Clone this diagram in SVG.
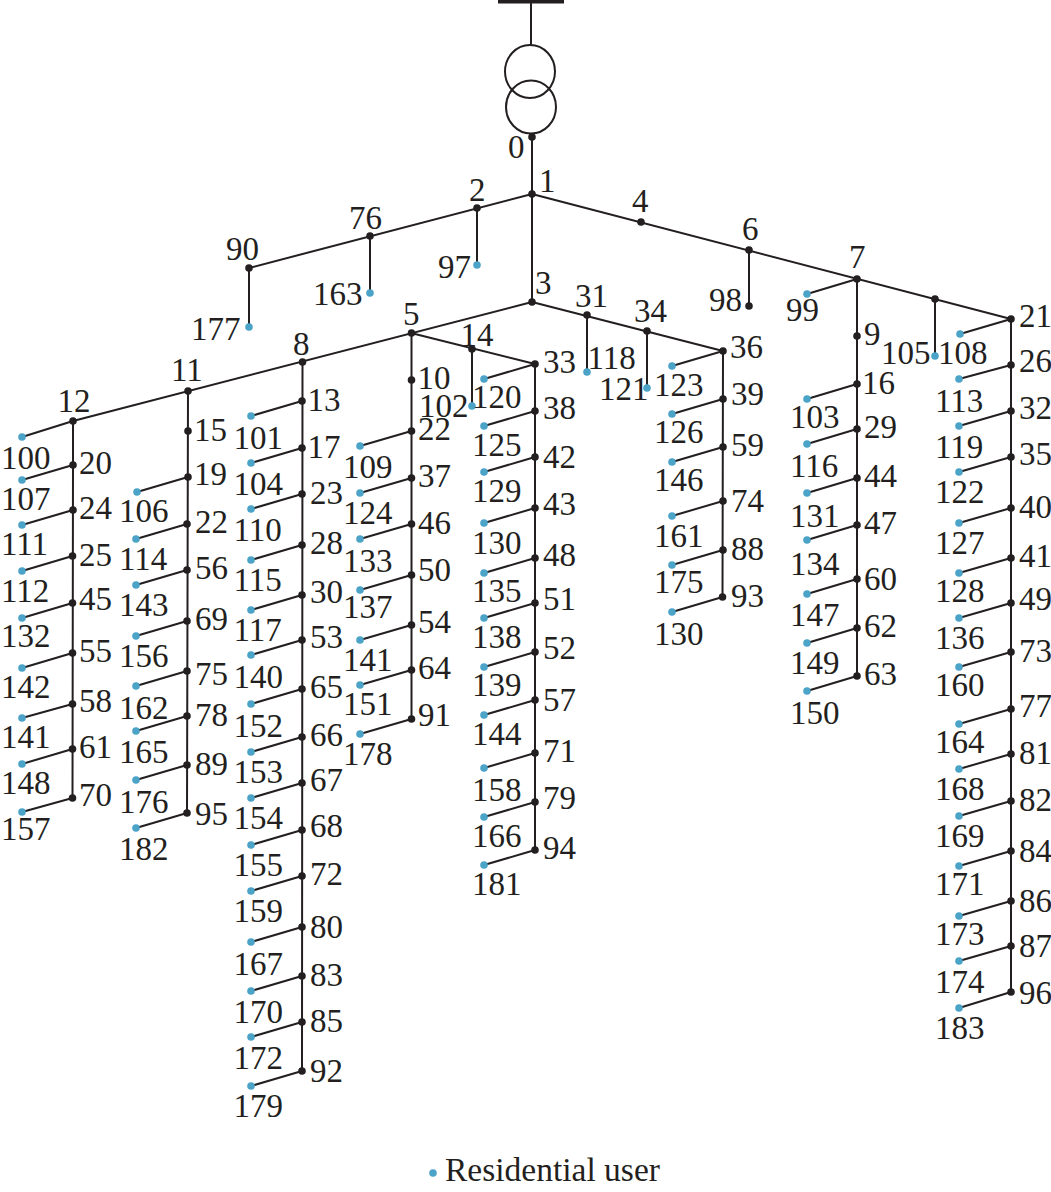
<svg xmlns="http://www.w3.org/2000/svg" width="1051" height="1192" viewBox="0 0 1051 1192">
<style>
text{font-family:"Liberation Serif","Times New Roman",serif;font-size:33px;fill:#231f20;transform:translate(1px,0.7px)}
.b{fill:#231f20}
.u{fill:#4ba3c7}
#connectors path,#transformer ellipse,#transformer path{fill:none;stroke:#231f20;stroke-width:2}
</style>
<rect width="1051" height="1192" fill="#fff"/>
<g id="transformer">
<rect x="498" y="0" width="66" height="3.5" fill="#231f20"/>
<path d="M531 0V45"/>
<ellipse cx="530" cy="71.500" rx="25" ry="26.500"/>
<ellipse cx="531" cy="107" rx="25" ry="26.500"/>
</g>
<g id="connectors">
<path id="trunk" d="M532 137V302"/>
<path id="left-feeder" d="M532 194L249 268M477 208V265M370 236V293M249 268V327"/>
<path id="right-feeder" d="M532 194L1011 319M749 250V306M857 279L807 294M935 299V356"/>
<path id="mid-feeder" d="M532 302L73 421L22 437M532 302L723 351M587 315V372M647 331V388"/>
<path id="branch14" d="M411 333L535 364M472 349V406"/>
<path id="col12" d="M73 421V465M73 465L22 480M73 465L72.500 798M73 510L22 525M72.500 556L22 571M72.500 603L22 618M72.500 653L22 668M72.500 704L22 718M72.500 749L22 764M72.500 798L22 812"/>
<path id="col11" d="M188 391L187 813M188 477L137 492M187 524L136 539M187 570L136 585M187 621L136 636M187 671L136 686M187 716L136 731M187 765L136 780M187 813L136 828"/>
<path id="col8" d="M302.500 362L302 1071M302 401L251 416M302 448L251 463M302 494L251 509M302 545L251 560M302 595L251 610M302 640L251 655M302 689L251 704M302 737L251 752M302 783L251 798M302 830L251 845M302 876L251 891M302 927L251 942M302 976L251 991M302 1022L251 1037M302 1071L251 1086"/>
<path id="col5" d="M411.500 333V719M411.500 431L360 446M411.500 478L360 493M411.500 524L360 539M411.500 575L360 590M411.500 625L360 640M411.500 670L360 685M411.500 719L360 734"/>
<path id="col33" d="M535 364V850M535 364L484 379M535 411L484 426M535 457L484 472M535 508L484 523M535 558L484 573M535 603L484 618M535 652L484 667M535 700L484 715M535 753L484 768M535 802L484 817M535 850L484 865"/>
<path id="col36" d="M723 351L722.500 597M723 351L672 366M723 399L672 414M723 447L672 462M723 501L672 516M723 550L672 565M722.500 597L672 612"/>
<path id="col7" d="M857 279V676M857 384L807 399M857 429L807 444M857 478L807 493M857 525L807 540M857 579L807 594M857 628L807 643M857 676L807 691"/>
<path id="col21" d="M1011 319V992M1011 319L960 334M1011 365L959 379M1011 411L959 426M1011 457L959 472M1011 508L959 523M1011 558L959 573M1011 603L959 618M1011 652L959 667M1011 709L959 724M1011 754L959 769M1011 801L959 816M1011 851L959 866M1011 901L959 916M1011 946L959 961M1011 992L959 1008"/>
</g>
<g id="nodes">
<g id="n0"><circle class="b" cx="532" cy="137" r="3.800"/><text x="507" y="157">0</text></g>
<g id="n1"><circle class="b" cx="532" cy="194" r="3.800"/><text x="538" y="191">1</text></g>
<g id="n2"><circle class="b" cx="477" cy="208" r="3.800"/><text x="468" y="200">2</text></g>
<g id="n76"><circle class="b" cx="370" cy="236" r="3.800"/><text x="348" y="228">76</text></g>
<g id="n90"><circle class="b" cx="249" cy="268" r="3.800"/><text x="225" y="259">90</text></g>
<g id="n97"><circle class="u" cx="477" cy="265" r="3.800"/><text x="437" y="277">97</text></g>
<g id="n163"><circle class="u" cx="370" cy="293" r="3.800"/><text x="312" y="304">163</text></g>
<g id="n177"><circle class="u" cx="249" cy="327" r="3.800"/><text x="190" y="339">177</text></g>
<g id="n4"><circle class="b" cx="641" cy="222" r="3.800"/><text x="631" y="211">4</text></g>
<g id="n6"><circle class="b" cx="749" cy="250" r="3.800"/><text x="741" y="239">6</text></g>
<g id="n7"><circle class="b" cx="857" cy="279" r="3.800"/><text x="848" y="267">7</text></g>
<g id="n935"><circle class="b" cx="935" cy="299" r="3.800"/></g>
<g id="n98"><circle class="b" cx="749" cy="306" r="3.800"/><text x="708" y="310">98</text></g>
<g id="n99"><circle class="u" cx="807" cy="294" r="3.800"/><text x="785" y="320">99</text></g>
<g id="n105"><circle class="u" cx="935" cy="356" r="3.800"/><text x="880" y="363">105</text></g>
<g id="n3"><circle class="b" cx="532" cy="302" r="3.800"/><text x="534" y="293">3</text></g>
<g id="n31"><circle class="b" cx="587" cy="315" r="3.800"/><text x="574" y="306">31</text></g>
<g id="n34"><circle class="b" cx="647" cy="331" r="3.800"/><text x="633" y="321">34</text></g>
<g id="n118"><circle class="u" cx="587" cy="372" r="3.800"/><text x="586.500" y="368">118</text></g>
<g id="n121"><circle class="u" cx="647" cy="388" r="3.800"/><text x="598" y="399">121</text></g>
<g id="n5"><circle class="b" cx="411.500" cy="333" r="3.800"/><text x="402" y="324">5</text></g>
<g id="n14"><circle class="b" cx="472" cy="349" r="3.800"/><text x="459.500" y="345">14</text></g>
<g id="n102"><circle class="u" cx="472" cy="406" r="3.800"/><text x="418" y="416">102</text></g>
<g id="n8"><circle class="b" cx="302.500" cy="362" r="3.800"/><text x="292" y="354">8</text></g>
<g id="n11"><circle class="b" cx="188" cy="391" r="3.800"/><text x="170" y="380">11</text></g>
<g id="n12"><circle class="b" cx="73" cy="421" r="3.800"/><text x="56.500" y="411">12</text></g>
<g id="n100"><circle class="u" cx="22" cy="437" r="3.800"/><text x="0" y="468">100</text></g>
<g id="n20"><circle class="b" cx="73" cy="465" r="3.800"/><text x="78" y="473.500">20</text></g>
<g id="n24"><circle class="b" cx="73" cy="510" r="3.800"/><text x="78" y="518.500">24</text></g>
<g id="n25"><circle class="b" cx="72.500" cy="556" r="3.800"/><text x="78" y="565.500">25</text></g>
<g id="n45"><circle class="b" cx="72.500" cy="603" r="3.800"/><text x="78" y="609.500">45</text></g>
<g id="n55"><circle class="b" cx="72.500" cy="653" r="3.800"/><text x="78" y="661.500">55</text></g>
<g id="n58"><circle class="b" cx="72.500" cy="704" r="3.800"/><text x="78" y="711.500">58</text></g>
<g id="n61"><circle class="b" cx="72.500" cy="749" r="3.800"/><text x="78" y="757.500">61</text></g>
<g id="n70"><circle class="b" cx="72.500" cy="798" r="3.800"/><text x="78" y="805.500">70</text></g>
<g id="n107"><circle class="u" cx="22" cy="480" r="3.800"/><text x="0" y="509.500">107</text></g>
<g id="n111"><circle class="u" cx="22" cy="525" r="3.800"/><text x="0" y="554.500">111</text></g>
<g id="n112"><circle class="u" cx="22" cy="571" r="3.800"/><text x="0" y="601.500">112</text></g>
<g id="n132"><circle class="u" cx="22" cy="618" r="3.800"/><text x="0" y="646.500">132</text></g>
<g id="n142"><circle class="u" cx="22" cy="668" r="3.800"/><text x="0" y="697.500">142</text></g>
<g id="n141a"><circle class="u" cx="22" cy="718" r="3.800"/><text x="0" y="747.500">141</text></g>
<g id="n148"><circle class="u" cx="22" cy="764" r="3.800"/><text x="0" y="793.500">148</text></g>
<g id="n157"><circle class="u" cx="22" cy="812" r="3.800"/><text x="0" y="839.500">157</text></g>
<g id="n15"><circle class="b" cx="188" cy="431" r="3.800"/><text x="193" y="440.500">15</text></g>
<g id="n19"><circle class="b" cx="188" cy="477" r="3.800"/><text x="193" y="484.500">19</text></g>
<g id="n22a"><circle class="b" cx="187" cy="524" r="3.800"/><text x="194" y="532.500">22</text></g>
<g id="n56"><circle class="b" cx="187" cy="570" r="3.800"/><text x="194" y="578.500">56</text></g>
<g id="n69"><circle class="b" cx="187" cy="621" r="3.800"/><text x="194" y="629.500">69</text></g>
<g id="n75"><circle class="b" cx="187" cy="671" r="3.800"/><text x="194" y="684.500">75</text></g>
<g id="n78"><circle class="b" cx="187" cy="716" r="3.800"/><text x="194" y="725.500">78</text></g>
<g id="n89"><circle class="b" cx="187" cy="765" r="3.800"/><text x="194" y="774.500">89</text></g>
<g id="n95"><circle class="b" cx="187" cy="813" r="3.800"/><text x="194" y="824.500">95</text></g>
<g id="n106"><circle class="u" cx="137" cy="492" r="3.800"/><text x="118" y="521">106</text></g>
<g id="n114"><circle class="u" cx="136" cy="539" r="3.800"/><text x="118" y="569">114</text></g>
<g id="n143"><circle class="u" cx="136" cy="585" r="3.800"/><text x="118" y="615">143</text></g>
<g id="n156"><circle class="u" cx="136" cy="636" r="3.800"/><text x="118" y="666">156</text></g>
<g id="n162"><circle class="u" cx="136" cy="686" r="3.800"/><text x="118" y="718">162</text></g>
<g id="n165"><circle class="u" cx="136" cy="731" r="3.800"/><text x="118" y="762">165</text></g>
<g id="n176"><circle class="u" cx="136" cy="780" r="3.800"/><text x="118" y="812">176</text></g>
<g id="n182"><circle class="u" cx="136" cy="828" r="3.800"/><text x="118" y="859">182</text></g>
<g id="n13"><circle class="b" cx="302" cy="401" r="3.800"/><text x="306.500" y="410">13</text></g>
<g id="n17"><circle class="b" cx="302" cy="448" r="3.800"/><text x="306.500" y="457">17</text></g>
<g id="n23"><circle class="b" cx="302" cy="494" r="3.800"/><text x="309" y="503.500">23</text></g>
<g id="n28"><circle class="b" cx="302" cy="545" r="3.800"/><text x="309" y="553.500">28</text></g>
<g id="n30"><circle class="b" cx="302" cy="595" r="3.800"/><text x="309" y="602.500">30</text></g>
<g id="n53"><circle class="b" cx="302" cy="640" r="3.800"/><text x="309" y="647.500">53</text></g>
<g id="n65"><circle class="b" cx="302" cy="689" r="3.800"/><text x="309" y="697.500">65</text></g>
<g id="n66"><circle class="b" cx="302" cy="737" r="3.800"/><text x="309" y="745.500">66</text></g>
<g id="n67"><circle class="b" cx="302" cy="783" r="3.800"/><text x="309" y="790.500">67</text></g>
<g id="n68"><circle class="b" cx="302" cy="830" r="3.800"/><text x="309" y="836.500">68</text></g>
<g id="n72"><circle class="b" cx="302" cy="876" r="3.800"/><text x="309" y="884.500">72</text></g>
<g id="n80"><circle class="b" cx="302" cy="927" r="3.800"/><text x="309" y="937.500">80</text></g>
<g id="n83"><circle class="b" cx="302" cy="976" r="3.800"/><text x="309" y="985.500">83</text></g>
<g id="n85"><circle class="b" cx="302" cy="1022" r="3.800"/><text x="309" y="1031.500">85</text></g>
<g id="n92"><circle class="b" cx="302" cy="1071" r="3.800"/><text x="309" y="1081.500">92</text></g>
<g id="n101"><circle class="u" cx="251" cy="416" r="3.800"/><text x="232.500" y="448">101</text></g>
<g id="n104"><circle class="u" cx="251" cy="463" r="3.800"/><text x="232.500" y="494.500">104</text></g>
<g id="n110"><circle class="u" cx="251" cy="509" r="3.800"/><text x="232.500" y="540">110</text></g>
<g id="n115"><circle class="u" cx="251" cy="560" r="3.800"/><text x="232.500" y="590">115</text></g>
<g id="n117"><circle class="u" cx="251" cy="610" r="3.800"/><text x="232.500" y="640">117</text></g>
<g id="n140"><circle class="u" cx="251" cy="655" r="3.800"/><text x="232.500" y="687">140</text></g>
<g id="n152"><circle class="u" cx="251" cy="704" r="3.800"/><text x="232.500" y="736">152</text></g>
<g id="n153"><circle class="u" cx="251" cy="752" r="3.800"/><text x="232.500" y="782">153</text></g>
<g id="n154"><circle class="u" cx="251" cy="798" r="3.800"/><text x="232.500" y="828">154</text></g>
<g id="n155"><circle class="u" cx="251" cy="845" r="3.800"/><text x="232.500" y="875">155</text></g>
<g id="n159"><circle class="u" cx="251" cy="891" r="3.800"/><text x="232.500" y="921">159</text></g>
<g id="n167"><circle class="u" cx="251" cy="942" r="3.800"/><text x="232.500" y="974">167</text></g>
<g id="n170"><circle class="u" cx="251" cy="991" r="3.800"/><text x="232.500" y="1022">170</text></g>
<g id="n172"><circle class="u" cx="251" cy="1037" r="3.800"/><text x="232.500" y="1068">172</text></g>
<g id="n179"><circle class="u" cx="251" cy="1086" r="3.800"/><text x="232.500" y="1116">179</text></g>
<g id="n10"><circle class="b" cx="411.500" cy="380" r="3.800"/><text x="416.500" y="388">10</text></g>
<g id="n22b"><circle class="b" cx="411.500" cy="431" r="3.800"/><text x="417" y="439.500">22</text></g>
<g id="n37"><circle class="b" cx="411.500" cy="478" r="3.800"/><text x="417" y="486.500">37</text></g>
<g id="n46"><circle class="b" cx="411.500" cy="524" r="3.800"/><text x="417" y="533.500">46</text></g>
<g id="n50"><circle class="b" cx="411.500" cy="575" r="3.800"/><text x="417" y="580.500">50</text></g>
<g id="n54"><circle class="b" cx="411.500" cy="625" r="3.800"/><text x="417" y="632.500">54</text></g>
<g id="n64"><circle class="b" cx="411.500" cy="670" r="3.800"/><text x="417" y="678.500">64</text></g>
<g id="n91"><circle class="b" cx="411.500" cy="719" r="3.800"/><text x="417" y="725.500">91</text></g>
<g id="n109"><circle class="u" cx="360" cy="446" r="3.800"/><text x="342" y="477">109</text></g>
<g id="n124"><circle class="u" cx="360" cy="493" r="3.800"/><text x="342" y="523">124</text></g>
<g id="n133"><circle class="u" cx="360" cy="539" r="3.800"/><text x="342" y="571">133</text></g>
<g id="n137"><circle class="u" cx="360" cy="590" r="3.800"/><text x="342" y="617">137</text></g>
<g id="n141b"><circle class="u" cx="360" cy="640" r="3.800"/><text x="342" y="670">141</text></g>
<g id="n151"><circle class="u" cx="360" cy="685" r="3.800"/><text x="342" y="714">151</text></g>
<g id="n178"><circle class="u" cx="360" cy="734" r="3.800"/><text x="342" y="764">178</text></g>
<g id="n33"><circle class="b" cx="535" cy="364" r="3.800"/><text x="542" y="372.500">33</text></g>
<g id="n38"><circle class="b" cx="535" cy="411" r="3.800"/><text x="542" y="418.500">38</text></g>
<g id="n42"><circle class="b" cx="535" cy="457" r="3.800"/><text x="542" y="467.500">42</text></g>
<g id="n43"><circle class="b" cx="535" cy="508" r="3.800"/><text x="542" y="514.500">43</text></g>
<g id="n48"><circle class="b" cx="535" cy="558" r="3.800"/><text x="542" y="565.500">48</text></g>
<g id="n51"><circle class="b" cx="535" cy="603" r="3.800"/><text x="542" y="609.500">51</text></g>
<g id="n52"><circle class="b" cx="535" cy="652" r="3.800"/><text x="542" y="658.500">52</text></g>
<g id="n57"><circle class="b" cx="535" cy="700" r="3.800"/><text x="542" y="710.500">57</text></g>
<g id="n71"><circle class="b" cx="535" cy="753" r="3.800"/><text x="542" y="761.500">71</text></g>
<g id="n79"><circle class="b" cx="535" cy="802" r="3.800"/><text x="542" y="808.500">79</text></g>
<g id="n94"><circle class="b" cx="535" cy="850" r="3.800"/><text x="542" y="858.500">94</text></g>
<g id="n120"><circle class="u" cx="484" cy="379" r="3.800"/><text x="471" y="407.500">120</text></g>
<g id="n125"><circle class="u" cx="484" cy="426" r="3.800"/><text x="471" y="455">125</text></g>
<g id="n129"><circle class="u" cx="484" cy="472" r="3.800"/><text x="471" y="501">129</text></g>
<g id="n130a"><circle class="u" cx="484" cy="523" r="3.800"/><text x="471" y="553">130</text></g>
<g id="n135"><circle class="u" cx="484" cy="573" r="3.800"/><text x="471" y="601">135</text></g>
<g id="n138"><circle class="u" cx="484" cy="618" r="3.800"/><text x="471" y="647">138</text></g>
<g id="n139"><circle class="u" cx="484" cy="667" r="3.800"/><text x="471" y="695">139</text></g>
<g id="n144"><circle class="u" cx="484" cy="715" r="3.800"/><text x="471" y="744">144</text></g>
<g id="n158"><circle class="u" cx="484" cy="768" r="3.800"/><text x="471" y="800">158</text></g>
<g id="n166"><circle class="u" cx="484" cy="817" r="3.800"/><text x="471" y="846">166</text></g>
<g id="n181"><circle class="u" cx="484" cy="865" r="3.800"/><text x="471" y="894">181</text></g>
<g id="n36"><circle class="b" cx="723" cy="351" r="3.800"/><text x="729" y="357.500">36</text></g>
<g id="n39"><circle class="b" cx="723" cy="399" r="3.800"/><text x="730" y="404.500">39</text></g>
<g id="n59"><circle class="b" cx="723" cy="447" r="3.800"/><text x="730" y="455.500">59</text></g>
<g id="n74"><circle class="b" cx="723" cy="501" r="3.800"/><text x="730" y="511.500">74</text></g>
<g id="n88"><circle class="b" cx="723" cy="550" r="3.800"/><text x="730" y="559.500">88</text></g>
<g id="n93"><circle class="b" cx="722.500" cy="597" r="3.800"/><text x="730" y="606.500">93</text></g>
<g id="n123"><circle class="u" cx="672" cy="366" r="3.800"/><text x="653" y="395">123</text></g>
<g id="n126"><circle class="u" cx="672" cy="414" r="3.800"/><text x="653" y="442">126</text></g>
<g id="n146"><circle class="u" cx="672" cy="462" r="3.800"/><text x="653" y="490">146</text></g>
<g id="n161"><circle class="u" cx="672" cy="516" r="3.800"/><text x="653" y="546">161</text></g>
<g id="n175"><circle class="u" cx="672" cy="565" r="3.800"/><text x="653" y="592">175</text></g>
<g id="n130b"><circle class="u" cx="672" cy="612" r="3.800"/><text x="653" y="644">130</text></g>
<g id="n9"><circle class="b" cx="857" cy="336" r="3.800"/><text x="863" y="344.500">9</text></g>
<g id="n16"><circle class="b" cx="857" cy="384" r="3.800"/><text x="861" y="393">16</text></g>
<g id="n29"><circle class="b" cx="857" cy="429" r="3.800"/><text x="863" y="437.500">29</text></g>
<g id="n44"><circle class="b" cx="857" cy="478" r="3.800"/><text x="863" y="486.500">44</text></g>
<g id="n47"><circle class="b" cx="857" cy="525" r="3.800"/><text x="863" y="533.500">47</text></g>
<g id="n60"><circle class="b" cx="857" cy="579" r="3.800"/><text x="863" y="589.500">60</text></g>
<g id="n62"><circle class="b" cx="857" cy="628" r="3.800"/><text x="863" y="636.500">62</text></g>
<g id="n63"><circle class="b" cx="857" cy="676" r="3.800"/><text x="863" y="684.500">63</text></g>
<g id="n103"><circle class="u" cx="807" cy="399" r="3.800"/><text x="789" y="427">103</text></g>
<g id="n116"><circle class="u" cx="807" cy="444" r="3.800"/><text x="789" y="476">116</text></g>
<g id="n131"><circle class="u" cx="807" cy="493" r="3.800"/><text x="789" y="526">131</text></g>
<g id="n134"><circle class="u" cx="807" cy="540" r="3.800"/><text x="789" y="574">134</text></g>
<g id="n147"><circle class="u" cx="807" cy="594" r="3.800"/><text x="789" y="625">147</text></g>
<g id="n149"><circle class="u" cx="807" cy="643" r="3.800"/><text x="789" y="673">149</text></g>
<g id="n150"><circle class="u" cx="807" cy="691" r="3.800"/><text x="789" y="723">150</text></g>
<g id="n21"><circle class="b" cx="1011" cy="319" r="3.800"/><text x="1018" y="326.500">21</text></g>
<g id="n26"><circle class="b" cx="1011" cy="365" r="3.800"/><text x="1018" y="371.500">26</text></g>
<g id="n32"><circle class="b" cx="1011" cy="411" r="3.800"/><text x="1018" y="418.500">32</text></g>
<g id="n35"><circle class="b" cx="1011" cy="457" r="3.800"/><text x="1018" y="464.500">35</text></g>
<g id="n40"><circle class="b" cx="1011" cy="508" r="3.800"/><text x="1018" y="517.500">40</text></g>
<g id="n41"><circle class="b" cx="1011" cy="558" r="3.800"/><text x="1018" y="566.500">41</text></g>
<g id="n49"><circle class="b" cx="1011" cy="603" r="3.800"/><text x="1018" y="609.500">49</text></g>
<g id="n73"><circle class="b" cx="1011" cy="652" r="3.800"/><text x="1018" y="661.500">73</text></g>
<g id="n77"><circle class="b" cx="1011" cy="709" r="3.800"/><text x="1018" y="716.500">77</text></g>
<g id="n81"><circle class="b" cx="1011" cy="754" r="3.800"/><text x="1018" y="763.500">81</text></g>
<g id="n82"><circle class="b" cx="1011" cy="801" r="3.800"/><text x="1018" y="810.500">82</text></g>
<g id="n84"><circle class="b" cx="1011" cy="851" r="3.800"/><text x="1018" y="861.500">84</text></g>
<g id="n86"><circle class="b" cx="1011" cy="901" r="3.800"/><text x="1018" y="911.500">86</text></g>
<g id="n87"><circle class="b" cx="1011" cy="946" r="3.800"/><text x="1018" y="956.500">87</text></g>
<g id="n96"><circle class="b" cx="1011" cy="992" r="3.800"/><text x="1018" y="1003.500">96</text></g>
<g id="n108"><circle class="u" cx="960" cy="334" r="3.800"/><text x="937" y="363">108</text></g>
<g id="n113"><circle class="u" cx="959" cy="379" r="3.800"/><text x="934" y="411">113</text></g>
<g id="n119"><circle class="u" cx="959" cy="426" r="3.800"/><text x="934" y="457">119</text></g>
<g id="n122"><circle class="u" cx="959" cy="472" r="3.800"/><text x="934" y="502">122</text></g>
<g id="n127"><circle class="u" cx="959" cy="523" r="3.800"/><text x="934" y="553">127</text></g>
<g id="n128"><circle class="u" cx="959" cy="573" r="3.800"/><text x="934" y="601">128</text></g>
<g id="n136"><circle class="u" cx="959" cy="618" r="3.800"/><text x="934" y="648">136</text></g>
<g id="n160"><circle class="u" cx="959" cy="667" r="3.800"/><text x="934" y="695">160</text></g>
<g id="n164"><circle class="u" cx="959" cy="724" r="3.800"/><text x="934" y="752">164</text></g>
<g id="n168"><circle class="u" cx="959" cy="769" r="3.800"/><text x="934" y="799">168</text></g>
<g id="n169"><circle class="u" cx="959" cy="816" r="3.800"/><text x="934" y="846">169</text></g>
<g id="n171"><circle class="u" cx="959" cy="866" r="3.800"/><text x="934" y="894">171</text></g>
<g id="n173"><circle class="u" cx="959" cy="916" r="3.800"/><text x="934" y="944">173</text></g>
<g id="n174"><circle class="u" cx="959" cy="961" r="3.800"/><text x="934" y="992">174</text></g>
<g id="n183"><circle class="u" cx="959" cy="1008" r="3.800"/><text x="934" y="1038">183</text></g>
</g>
<g id="legend"><circle class="u" cx="433" cy="1173" r="3.800"/><text x="444" y="1180" style="font-size:33.500px">Residential user</text></g>
</svg>
